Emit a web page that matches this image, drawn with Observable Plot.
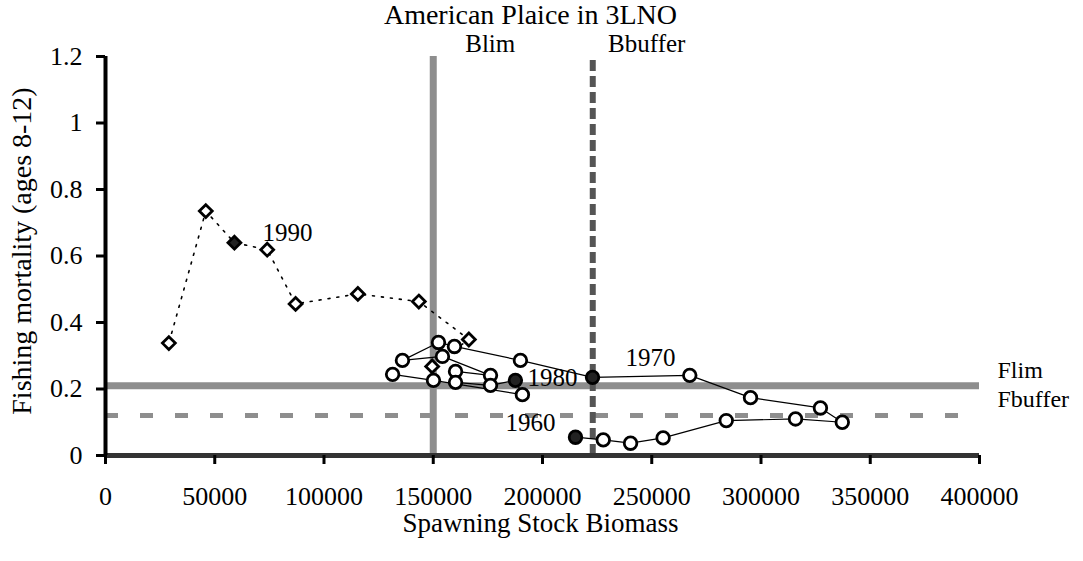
<!DOCTYPE html>
<html><head><meta charset="utf-8">
<script src="https://cdn.jsdelivr.net/npm/d3@7"></script>
<script src="https://cdn.jsdelivr.net/npm/@observablehq/plot@0.6"></script>
<style>body{margin:0;background:#fff}</style>
</head><body><div id="chart"></div>
<script>
// ---- text ----
const title = "American Plaice in 3LNO";
const xLabel = "Spawning Stock Biomass";
const yLabel = "Fishing mortality (ages 8-12)";
const xTicks = [0, 50000, 100000, 150000, 200000, 250000, 300000, 350000, 400000];
const yTicks = [0, 0.2, 0.4, 0.6, 0.8, 1, 1.2];

// ---- reference points ----
const Blim = 150000, Bbuffer = 223000, Flim = 0.21, Fbuffer = 0.12;

// ---- circle series (1960 -> early 1980s), solid line ----
const circleSSB = [215100, 227800, 240300, 255200, 284100, 315800, 337200, 327200, 295200, 267400,
                   222900, 189900, 159700, 152400, 135900, 154200, 176200, 160200, 160200, 176200,
                   187600, 190800, 150100, 131400];
const circleF   = [0.055, 0.047, 0.037, 0.053, 0.105, 0.110, 0.100, 0.143, 0.174, 0.241,
                   0.235, 0.286, 0.328, 0.340, 0.286, 0.298, 0.241, 0.253, 0.220, 0.211,
                   0.226, 0.183, 0.226, 0.244];
const circleYear = ["1960","","","","","","","","","","1970","","","","","","","","","","1980","","",""];

// ---- diamond series (mid 1980s -> 1990s), dotted line ----
const diamondSSB = [149500, 166300, 143400, 115500, 87000, 74000, 59000, 45900, 29000];
const diamondF   = [0.268, 0.349, 0.463, 0.486, 0.456, 0.619, 0.640, 0.735, 0.338];
const diamondYear = ["","","","","","","1990","",""];

const circles = circleSSB.map((x, i) => ({x, y: circleF[i], year: circleYear[i]}));
const diamonds = diamondSSB.map((x, i) => ({x, y: diamondF[i], year: diamondYear[i]}));
const yr = (arr, y) => arr.filter(d => d.year === y);

const font = "'Liberation Serif', 'Times New Roman', serif";
const gray = "#8e8e8e";

const chart = Plot.plot({
  width: 1083, height: 561,
  marginLeft: 105, marginRight: 104, marginTop: 56, marginBottom: 106,
  x: {domain: [0, 400000]},
  y: {domain: [0, 1.2]},
  style: {fontFamily: font, fontSize: "25px", color: "#000", background: "#fff", overflow: "visible"},
  marks: [
    // reference lines
    Plot.ruleY([Flim], {stroke: gray, strokeWidth: 7}),
    Plot.ruleY([Fbuffer], {stroke: gray, strokeWidth: 5, strokeDasharray: "13,22"}),
    Plot.ruleX([Blim], {y1: 0, y2: 1.2, stroke: gray, strokeWidth: 7}),
    Plot.ruleX([Bbuffer], {y1: 0, y2: 1.2, stroke: "#555", strokeWidth: 6, strokeDasharray: "11,5"}),
    Plot.ruleY([0], {stroke: "#333", strokeWidth: 5}),
    // axes
    Plot.axisY(yTicks, {tickSize: 9, tickPadding: 14, tickFormat: d3.format(""), strokeWidth: 3, label: null, fontSize: 26}),
    Plot.ruleX([0], {y1: 0, y2: 1.2, stroke: "#000", strokeWidth: 4}),
    Plot.axisX(xTicks, {tickSize: 9, tickPadding: 22, tickFormat: d3.format("d"), strokeWidth: 3, label: null, fontSize: 26}),
    // series lines
    Plot.line(diamonds, {x: "x", y: "y", stroke: "#000", strokeWidth: 1.6, strokeDasharray: "2,7"}),
    Plot.line(circles, {x: "x", y: "y", stroke: "#000", strokeWidth: 1.2}),
    // markers
    Plot.dot(diamonds.filter(d => !d.year), {x: "x", y: "y", symbol: "diamond2", r: 5.8, stroke: "#000", strokeWidth: 2.8, fill: "#fff"}),
    Plot.dot(diamonds.filter(d => d.year), {x: "x", y: "y", symbol: "diamond2", r: 5.8, stroke: "#000", strokeWidth: 2.8, fill: "#222"}),
    Plot.dot(circles.filter(d => !d.year), {x: "x", y: "y", r: 6.3, stroke: "#000", strokeWidth: 2.8, fill: "#fff"}),
    Plot.dot(circles.filter(d => d.year), {x: "x", y: "y", r: 6.3, stroke: "#000", strokeWidth: 2.8, fill: "#222"}),
    // year labels
    Plot.text(yr(circles, "1960"), {x: "x", y: "y", text: "year", dx: -45, dy: -14, fontSize: 25}),
    Plot.text(yr(circles, "1970"), {x: "x", y: "y", text: "year", dx: 58, dy: -19, fontSize: 25}),
    Plot.text(yr(circles, "1980"), {x: "x", y: "y", text: "year", dx: 37, dy: -2, fontSize: 25}),
    Plot.text(yr(diamonds, "1990"), {x: "x", y: "y", text: "year", dx: 53, dy: -10, fontSize: 25}),
    // reference labels
    Plot.text([Blim], {x: d => d, frameAnchor: "top", lineAnchor: "middle", text: () => "Blim", dx: 57, dy: -13, fontSize: 25}),
    Plot.text([Bbuffer], {x: d => d, frameAnchor: "top", lineAnchor: "middle", text: () => "Bbuffer", dx: 54, dy: -13, fontSize: 25}),
    Plot.text([Flim], {y: d => d, frameAnchor: "right", lineAnchor: "middle", text: () => "Flim", textAnchor: "start", dx: 18, dy: -15, fontSize: 24}),
    Plot.text([Fbuffer], {y: d => d, frameAnchor: "right", lineAnchor: "middle", text: () => "Fbuffer", textAnchor: "start", dx: 18, dy: -16, fontSize: 24}),
    // titles
    Plot.text([title], {frameAnchor: "top", lineAnchor: "middle", textAnchor: "middle", text: d => d, dx: -12, dy: -41, fontSize: 28}),
    Plot.text([xLabel], {frameAnchor: "bottom", lineAnchor: "middle", textAnchor: "middle", text: d => d, dx: -2, dy: 68, fontSize: 27}),
    Plot.text([yLabel], {frameAnchor: "left", lineAnchor: "middle", textAnchor: "middle", text: d => d, rotate: -90, dx: -83, dy: -5, fontSize: 28})
  ]
});
document.getElementById("chart").appendChild(chart);
</script>
</body></html>
